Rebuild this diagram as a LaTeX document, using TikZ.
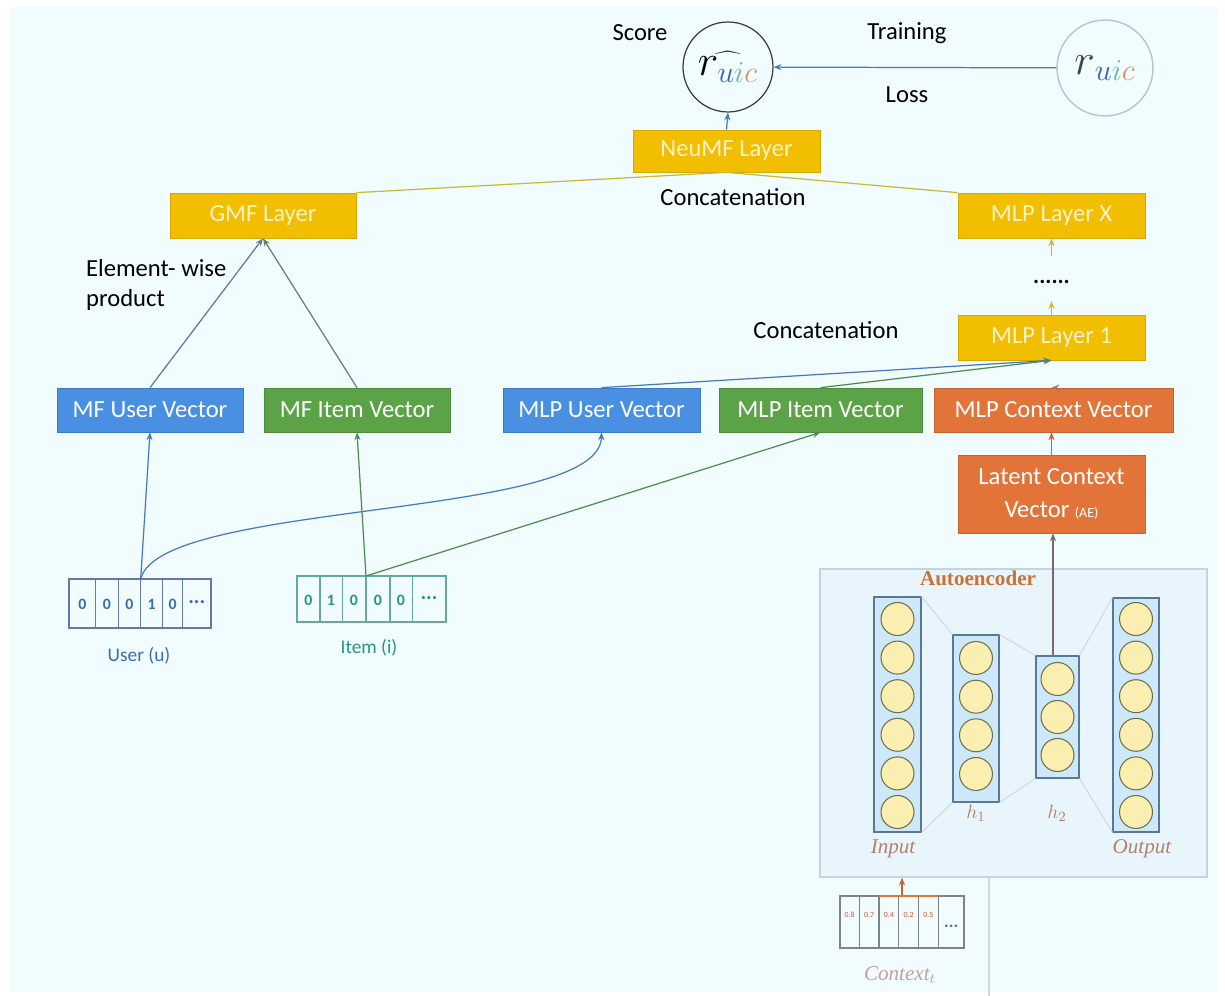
\documentclass[tikz,border=0pt]{standalone}
\usepackage{fontspec}
\setmainfont{Carlito}
\newfontfamily\aeserif{Liberation Serif}
\usetikzlibrary{arrows.meta}
\definecolor{bgc}{RGB}{240,252,254}
\definecolor{ylw}{RGB}{242,190,0}
\definecolor{ylwd}{RGB}{214,168,0}
\definecolor{ytxt}{RGB}{255,242,200}
\definecolor{blu}{RGB}{74,144,226}
\definecolor{blud}{RGB}{60,122,196}
\definecolor{grn}{RGB}{92,163,72}
\definecolor{grnd}{RGB}{76,140,60}
\definecolor{org}{RGB}{226,116,58}
\definecolor{orgd}{RGB}{200,98,46}
\definecolor{aeb}{RGB}{233,245,252}
\definecolor{aebd}{RGB}{196,212,222}
\definecolor{colf}{RGB}{205,232,248}
\definecolor{cold}{RGB}{90,120,150}
\definecolor{cirf}{RGB}{250,238,176}
\definecolor{cird}{RGB}{110,112,84}
\definecolor{aet}{RGB}{200,114,60}
\definecolor{lbl}{RGB}{180,128,104}
\definecolor{ublue}{RGB}{58,110,176}
\definecolor{iteal}{RGB}{40,150,125}
\definecolor{linb}{RGB}{70,122,192}
\definecolor{ling}{RGB}{78,140,78}
\definecolor{liny}{RGB}{200,186,50}
\definecolor{faint}{RGB}{205,218,226}
\definecolor{scoreb}{RGB}{60,60,60}
\definecolor{truthb}{RGB}{180,196,216}
\definecolor{cu}{RGB}{52,100,180}
\definecolor{ci}{RGB}{110,180,150}
\definecolor{cc}{RGB}{214,150,100}
\definecolor{rg}{RGB}{60,66,80}
\definecolor{ctxc}{RGB}{210,90,60}
\definecolor{ctxl}{RGB}{196,160,160}
\begin{document}
\begin{tikzpicture}[x=0.02cm,y=-0.02cm,
  boxfont/.style={font=\fontsize{14}{16}\selectfont},
  ybox/.style={boxfont, draw=ylwd, fill=ylw, text=ytxt, inner sep=0pt},
  bbox/.style={boxfont, draw=blud, fill=blu, text=white, inner sep=0pt},
  gbox/.style={boxfont, draw=grnd, fill=grn, text=white, inner sep=0pt},
  obox/.style={boxfont, draw=orgd, fill=org, text=white, inner sep=0pt},
  blabel/.style={font=\fontsize{14}{17}\selectfont, text=black},
  tipa/.style={-{Stealth[length=4.5pt,width=3.5pt]}, line width=0.7pt},
  barrow/.style={tipa, draw=linb},
  garrow/.style={tipa, draw=ling},
  yarrow/.style={tipa, draw=liny},
  oarrow/.style={tipa, draw=orgd},
  colbox/.style={draw=cold, fill=colf, line width=0.6pt, inner sep=0pt},
  neuron/.style={circle, draw=cird, fill=cirf, line width=0.6pt, minimum size=0.66cm, inner sep=0pt},
  digit/.style={font=\fontsize{9}{9}\selectfont\bfseries, inner sep=0pt},
  cdigit/.style={font=\fontsize{4.5}{5}\selectfont, text=ctxc, inner sep=0pt},
  aelab/.style={font=\aeserif\itshape\fontsize{12}{12}\selectfont, text=lbl}
]
\useasboundingbox (0,0) rectangle (1225,996);
\fill[white] (0,0) rectangle (1225,996);
\fill[bgc] (11,6) rectangle (1218,992);

% ---------- top: score and ground truth
\node[circle, draw=scoreb, line width=0.7pt, minimum size=1.8cm, inner sep=0pt] (score) at (728,67)
  {\fontsize{24}{24}\selectfont $\widehat{r_{\textcolor{cu}{u}\textcolor{ci}{i}\textcolor{cc}{c}}}$};
\node[circle, draw=truthb, line width=0.8pt, minimum size=1.92cm, inner sep=0pt] (truth) at (1105,68)
  {\fontsize{24}{24}\selectfont $\textcolor{rg}{r}_{\textcolor{cu}{u}\textcolor{ci}{i}\textcolor{cc}{c}}$};
\draw[barrow] (truth) -- (score);
\node[blabel] (lscore) at (640,33) {Score};
\node[blabel] (ltrain) at (907,33) {Training};
\node[blabel] (lloss) at (907,95) {Loss};

% ---------- layers
\node[ybox, minimum width=3.74cm, minimum height=0.84cm] (neumf) at (726.5,151) {NeuMF Layer};
\node[ybox, minimum width=3.72cm, minimum height=0.9cm] (gmf) at (263,215.5) {GMF Layer};
\node[ybox, minimum width=3.74cm, minimum height=0.9cm] (lx) at (1051.5,215.5) {MLP Layer X};
\node[ybox, minimum width=3.74cm, minimum height=0.9cm] (l1) at (1051.5,337.5) {MLP Layer 1};
\draw[barrow] (neumf.north) -- (score.south);
\draw[draw=liny, line width=0.7pt] (gmf.north east) -- (neumf.south) -- (lx.north west);
\node[blabel] (lconc1) at (733,197) {Concatenation};
\node[blabel] (lconc2) at (826,330) {Concatenation};
\node[blabel, anchor=west, align=left] (lelem) at (80,285) {Element- wise\\product};

\node[font=\fontsize{13}{13}\selectfont\bfseries, inner sep=0pt] (dots) at (1051.5,282) {......};
\coordinate (ya) at (1051.5,301);
\coordinate (yb) at (1051.5,256);
\draw[yarrow] (l1.north) -- (ya);
\draw[yarrow] (yb) -- (lx.south);

% ---------- vector row
\node[bbox, minimum width=3.72cm, minimum height=0.88cm] (mfu) at (150,410) {MF User Vector};
\node[gbox, minimum width=3.72cm, minimum height=0.88cm] (mfi) at (357,410) {MF Item Vector};
\node[bbox, minimum width=3.94cm, minimum height=0.88cm] (mlpu) at (601.5,410) {MLP User Vector};
\node[gbox, minimum width=4.06cm, minimum height=0.88cm] (mlpi) at (820.5,410) {MLP Item Vector};
\node[obox, minimum width=4.78cm, minimum height=0.88cm] (mlpc) at (1053.5,410) {MLP Context Vector};
\node[obox, minimum width=3.74cm, minimum height=1.56cm, align=center, font=\fontsize{14}{19}\selectfont] (lat) at (1051.5,494)
  {Latent Context\\Vector {\fontsize{8}{8}\selectfont (AE)}};

\draw[tipa, draw={rgb,255:red,90;green,122;blue,168}] (mfu.north) -- (gmf.south);
\draw[tipa, draw={rgb,255:red,92;green,134;blue,100}] (mfi.north) -- (gmf.south);
\draw[barrow] (mlpu.north) -- (l1.south);
\draw[garrow] (mlpi.north) -- (l1.south);
\draw[tipa, draw={rgb,255:red,170;green,110;blue,100}] (mlpc.north) -- (mlpc.north -| l1.south);
\draw[oarrow] (lat.north) -- (lat.north |- mlpc.south);

% ---------- one-hot inputs
\node[draw={rgb,255:red,100;green,120;blue,160}, line width=0.6pt, minimum width=2.84cm, minimum height=0.98cm, inner sep=0pt] (uvec) at (140,603.5) {};
\foreach \xx in {95.7,118.3,140.7,162.7,182.7}
  \draw[draw={rgb,255:red,100;green,120;blue,160}, line width=0.6pt] (\xx,579) -- (\xx,628);
\foreach \n/\xx/\t in {u1/82.3/0,u2/107/0,u3/129.5/0,u4/151.7/1,u5/172.7/0}
  \node[digit, text=ublue] (\n) at (\xx,604) {\t};
\node[digit, text=ublue, font=\fontsize{12}{12}\selectfont\bfseries] (u6) at (196.8,602) {...};
\node[font=\fontsize{11}{11}\selectfont, text=ublue] (luser) at (139,656) {User (u)};

\node[draw={rgb,255:red,100;green,168;blue,160}, line width=0.6pt, minimum width=2.98cm, minimum height=0.92cm, inner sep=0pt] (ivec) at (371.5,599) {};
\foreach \xx in {320,342.3,366,390,412.7}
  \draw[draw={rgb,255:red,100;green,168;blue,160}, line width=0.6pt] (\xx,576) -- (\xx,622);
\foreach \n/\xx/\t in {i1/308.5/0,i2/331/1,i3/354/0,i4/378/0,i5/401/0}
  \node[digit, text=iteal] (\n) at (\xx,600) {\t};
\node[digit, text=iteal, font=\fontsize{12}{12}\selectfont\bfseries] (i6) at (429,598) {...};
\node[font=\fontsize{11}{11}\selectfont, text=iteal] (litem) at (369,648) {Item (i)};

\coordinate (uc) at (140.7,579);
\coordinate (ic) at (366,576);
\draw[barrow] (uc) -- (mfu.south);
\draw[barrow] (uc) .. controls (160,500) and (600,520) .. (mlpu.south);
\draw[garrow] (ic) -- (mfi.south);
\draw[garrow] (ic) -- (mlpi.south);

% ---------- autoencoder
\node[draw=aebd, fill=aeb, line width=0.7pt, minimum width=7.74cm, minimum height=6.16cm, inner sep=0pt] (ae) at (1013.5,723) {};
\node[font=\aeserif\bfseries\fontsize{12}{12}\selectfont, text=aet] (aetitle) at (978,578) {Autoencoder};

\node[colbox, minimum width=0.94cm, minimum height=4.7cm] (colin) at (897.5,714.5) {};
\node[colbox, minimum width=0.92cm, minimum height=3.34cm] (colh1) at (976,718.5) {};
\node[colbox, minimum width=0.86cm, minimum height=2.44cm] (colh2) at (1057.5,717) {};
\node[colbox, minimum width=0.92cm, minimum height=4.68cm] (colout) at (1136,715) {};
\draw[faint, line width=0.6pt] (colin.north east) -- (colh1.north west);
\draw[faint, line width=0.6pt] (colin.south east) -- (colh1.south west);
\draw[faint, line width=0.6pt] (colh1.north east) -- (colh2.north west);
\draw[faint, line width=0.6pt] (colh1.south east) -- (colh2.south west);
\draw[faint, line width=0.6pt] (colh2.north east) -- (colout.north west);
\draw[faint, line width=0.6pt] (colh2.south east) -- (colout.south west);

\foreach \i/\yy in {1/619,2/657.6,3/696.2,4/734.8,5/773.4,6/812} {
  \node[neuron] (in\i) at (897.5,\yy) {};
  \node[neuron] (out\i) at (1136,\yy) {};
}
\foreach \i/\yy in {1/658,2/696.7,3/735.3,4/774}
  \node[neuron] (ha\i) at (976,\yy) {};
\foreach \i/\yy in {1/679,2/717,3/755}
  \node[neuron] (hb\i) at (1057.5,\yy) {};

\node[aelab] (linput) at (893,849) {Input};
\node[aelab] (loutput) at (1142,849) {Output};
\node[text=lbl, font=\fontsize{11}{11}\selectfont] (lh1) at (976,813) {$h_1$};
\node[text=lbl, font=\fontsize{11}{11}\selectfont] (lh2) at (1057,813) {$h_2$};

\draw[tipa, draw={rgb,255:red,122;green,108;blue,100}] (colh2.north -| 1053,0) -- (lat.south -| 1053,0);

% ---------- context vector
\draw[draw=faint, line width=0.7pt] (989,877) -- (989,996);
\node[draw={rgb,255:red,130;green,130;blue,130}, line width=0.6pt, minimum width=2.48cm, minimum height=1.04cm, inner sep=0pt] (ctx) at (902,922) {};
\foreach \xx in {859.3,879,898.7,918.3,938.3}
  \draw[draw={rgb,255:red,130;green,130;blue,130}, line width=0.6pt] (\xx,896) -- (\xx,948);
\draw[draw=org, line width=0.7pt] (879,896) -- (938.3,896);
\foreach \n/\xx/\t in {c1/849.7/0.8,c2/869.2/0.7,c3/888.9/0.4,c4/908.5/0.2,c5/928.3/0.5}
  \node[cdigit] (\n) at (\xx,915) {\t};
\node[font=\fontsize{10}{10}\selectfont\bfseries, text={rgb,255:red,110;green,110;blue,130}] (c6) at (951.2,926) {...};
\draw[oarrow] (ctx.north) -- (ctx.north |- ae.south);
\node[font=\aeserif\itshape\fontsize{12}{12}\selectfont, text=ctxl] (lctx) at (900,975) {Context$_t$};
\end{tikzpicture}
\end{document}
